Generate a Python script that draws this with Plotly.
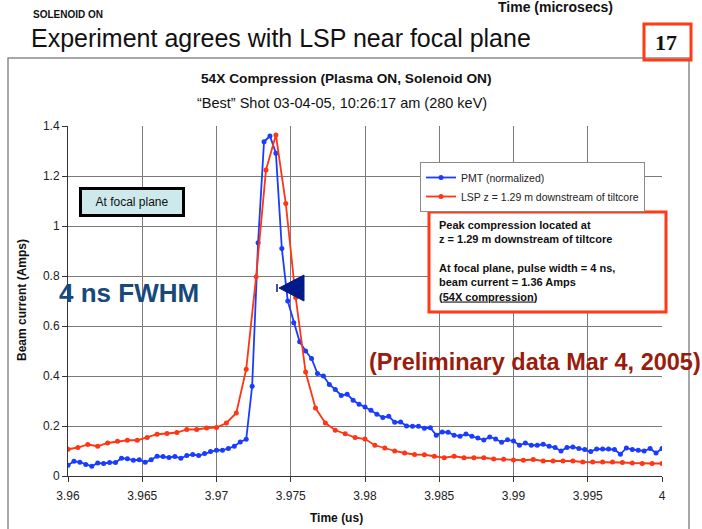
import plotly.graph_objects as go

# ---- data -------------------------------------------------------------
# PMT signal (normalized), sampled every 0.4 ns from 3.96 us
pmt_t0 = 3.96
pmt_dt = 0.0004
pmt_current = [
    0.043, 0.059, 0.055, 0.046, 0.039, 0.052, 0.050, 0.054, 0.054, 0.071,
    0.069, 0.063, 0.065, 0.055, 0.065, 0.079, 0.078, 0.074, 0.078, 0.071,
    0.082, 0.086, 0.082, 0.090, 0.098, 0.103, 0.103, 0.110, 0.119, 0.136,
    0.147, 0.359, 0.933, 1.337, 1.360, 1.291, 0.910, 0.700, 0.613, 0.537,
    0.500, 0.470, 0.410, 0.400, 0.366, 0.346, 0.322, 0.327, 0.303, 0.287,
    0.276, 0.263, 0.247, 0.234, 0.239, 0.215, 0.216, 0.200, 0.199, 0.199,
    0.191, 0.193, 0.163, 0.176, 0.175, 0.163, 0.159, 0.168, 0.159, 0.152,
    0.144, 0.156, 0.148, 0.135, 0.145, 0.140, 0.123, 0.132, 0.123, 0.123,
    0.127, 0.119, 0.114, 0.100, 0.114, 0.116, 0.110, 0.106, 0.098, 0.108,
    0.108, 0.108, 0.106, 0.087, 0.112, 0.106, 0.103, 0.100, 0.110, 0.092,
    0.110,
]

# LSP simulation at z = 1.29 m, sampled every 2/3 ns from 3.96 us
lsp_t0 = 3.96
lsp_dt = 1.0 / 1500.0
lsp_current = [
    0.107, 0.114, 0.126, 0.119, 0.132, 0.139, 0.143, 0.143, 0.154, 0.167,
    0.170, 0.174, 0.186, 0.186, 0.192, 0.194, 0.212, 0.252, 0.427, 0.797,
    1.224, 1.364, 1.090, 0.714, 0.416, 0.272, 0.212, 0.183, 0.169, 0.154,
    0.148, 0.123, 0.112, 0.100, 0.092, 0.086, 0.085, 0.079, 0.073, 0.079,
    0.073, 0.073, 0.073, 0.068, 0.067, 0.064, 0.063, 0.066, 0.060, 0.060,
    0.060, 0.060, 0.056, 0.056, 0.056, 0.056, 0.054, 0.052, 0.050, 0.050,
    0.050,
]

x_ticks = [3.96, 3.965, 3.97, 3.975, 3.98, 3.985, 3.99, 3.995, 4.0]
x_tick_text = ["3.96", "3.965", "3.97", "3.975", "3.98", "3.985", "3.99", "3.995", "4"]
y_ticks = [0, 0.2, 0.4, 0.6, 0.8, 1.0, 1.2, 1.4]
y_tick_text = ["0", "0.2", "0.4", "0.6", "0.8", "1", "1.2", "1.4"]

pmt_time = [pmt_t0 + i * pmt_dt for i in range(len(pmt_current))]
lsp_time = [lsp_t0 + i * lsp_dt for i in range(len(lsp_current))]

# ---- layout geometry (pixels) -----------------------------------------
FIG_W, FIG_H = 702, 529
PL, PR, PT, PB = 68, 662, 126, 476
PW, PH = PR - PL, PB - PT


def px(x):
    return (x - PL) / PW


def py(y):
    return (PB - y) / PH


SANS = "Liberation Sans, Arial, sans-serif"
BLUE = "#1a3cff"
RED = "#ff3514"

fig = go.Figure()

fig.add_trace(go.Scatter(
    x=pmt_time, y=pmt_current, mode="lines+markers",
    name="PMT (normalized)",
    line=dict(color=BLUE, width=1.8),
    marker=dict(color=BLUE, size=5),
))
fig.add_trace(go.Scatter(
    x=lsp_time, y=lsp_current, mode="lines+markers",
    name="LSP z = 1.29 m downstream of tiltcore",
    line=dict(color=RED, width=1.8),
    marker=dict(color=RED, size=5),
))

shapes = [
    # outer chart frame
    dict(type="rect", xref="paper", yref="paper",
         x0=px(8), x1=px(689), y0=py(560), y1=py(58),
         line=dict(color="#8a8a8a", width=1.5), layer="below"),
    # slide number box
    dict(type="rect", xref="paper", yref="paper",
         x0=px(644), x1=px(691), y0=py(60), y1=py(24),
         line=dict(color="#ff3a14", width=3)),
    # findings box
    dict(type="rect", xref="paper", yref="paper",
         x0=px(429), x1=px(666), y0=py(312), y1=py(212),
         line=dict(color="#ff3a14", width=3), fillcolor="white", layer="above"),
    # FWHM marker triangle
    dict(type="path", xref="paper", yref="paper",
         path=(f"M {px(279)},{py(288)} L {px(304)},{py(275)} "
               f"L {px(304)},{py(301)} Z"),
         fillcolor="#001a8a", line=dict(color="#001a8a", width=1)),
    dict(type="line", xref="paper", yref="paper",
         x0=px(277), x1=px(277), y0=py(284), y1=py(292),
         line=dict(color="#001a8a", width=1.5)),
]

annotations = [
    dict(text="<b>Time (microsecs)</b>", x=px(496), y=py(7),
         xanchor="left", yanchor="middle", font=dict(size=14, color="#111", family=SANS)),
    dict(text="<b>SOLENOID ON</b>", x=px(31), y=py(15),
         xanchor="left", yanchor="middle", font=dict(size=10, color="#111", family=SANS)),
    dict(text="Experiment agrees with LSP near focal plane", x=px(29), y=py(38),
         xanchor="left", yanchor="middle", font=dict(size=25, color="#111", family=SANS)),
    dict(text="<b>17</b>", x=px(666), y=py(42),
         xanchor="center", yanchor="middle",
         font=dict(size=22, color="#111", family="Liberation Serif, Times New Roman, serif")),
    dict(text="<b>54X Compression (Plasma ON, Solenoid ON)</b>", x=px(346), y=py(79),
         xanchor="center", yanchor="middle", font=dict(size=13.7, color="#111", family=SANS)),
    dict(text="\u201cBest\u201d Shot 03-04-05, 10:26:17 am (280 keV)", x=px(342), y=py(103),
         xanchor="center", yanchor="middle", font=dict(size=14.5, color="#111", family=SANS)),
    dict(text="<b>Beam current (Amps)</b>", x=px(22), y=py(300), textangle=-90,
         xanchor="center", yanchor="middle", font=dict(size=12, color="#111", family=SANS)),
    dict(text="<b>Time (us)</b>", x=px(336), y=py(518),
         xanchor="center", yanchor="middle", font=dict(size=12, color="#111", family=SANS)),
    dict(text="At focal plane", x=px(132), y=py(202),
         xanchor="center", yanchor="middle", width=98, height=22,
         bgcolor="#cde9ec", bordercolor="#000", borderwidth=3, borderpad=1,
         font=dict(size=12, color="#111", family=SANS)),
    dict(text="<b>4 ns FWHM</b>", x=px(57), y=py(293),
         xanchor="left", yanchor="middle",
         font=dict(size=26, color="#17497a", family=SANS)),
    dict(text="<b>(Preliminary data Mar 4, 2005)</b>", x=px(367), y=py(362),
         xanchor="left", yanchor="middle",
         font=dict(size=23.5, color="#9a1c0c", family=SANS)),
    dict(text=("<b>Peak compression located at<br>"
               "z = 1.29 m downstream of tiltcore<br>"
               " <br>"
               "At focal plane, pulse width = 4 ns,<br>"
               "beam current = 1.36 Amps<br>"
               "(<u>54X compression</u>)</b>"),
         x=px(437), y=py(217), xanchor="left", yanchor="top", align="left",
         font=dict(size=11, color="#111", family=SANS)),
]
for a in annotations:
    a.setdefault("xref", "paper")
    a.setdefault("yref", "paper")
    a.setdefault("showarrow", False)

grid = "#7a7a7a"
fig.update_layout(
    width=FIG_W, height=FIG_H,
    margin=dict(l=PL, r=FIG_W - PR, t=PT, b=FIG_H - PB, pad=0),
    paper_bgcolor="white", plot_bgcolor="white",
    font=dict(family=SANS, size=12, color="#222"),
    showlegend=True,
    legend=dict(x=px(420), y=py(162), xanchor="left", yanchor="top",
                bgcolor="white", bordercolor="#8a8a8a", borderwidth=1,
                font=dict(size=10.5, color="#222", family=SANS),
                itemwidth=30, tracegroupgap=0),
    xaxis=dict(range=[3.96, 4.0], tickvals=x_ticks, ticktext=x_tick_text,
               showgrid=True, gridcolor=grid, gridwidth=1, zeroline=False,
               showline=True, linecolor="#333", linewidth=1,
               ticks="outside", ticklen=5, tickcolor="#333",
               ticklabelstandoff=4,
               tickfont=dict(size=12, color="#222")),
    yaxis=dict(range=[0, 1.4], tickvals=y_ticks, ticktext=y_tick_text,
               showgrid=True, gridcolor=grid, gridwidth=1, zeroline=False,
               showline=True, linecolor="#333", linewidth=1,
               ticks="outside", ticklen=5, tickcolor="#333",
               tickfont=dict(size=12, color="#222")),
    shapes=shapes,
    annotations=annotations,
)

fig.write_html("out.html")
